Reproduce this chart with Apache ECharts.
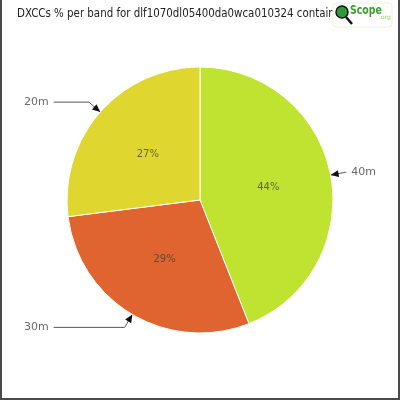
<!DOCTYPE html>
<html>
<head>
<meta charset="utf-8">
<script src="https://cdn.jsdelivr.net/npm/echarts@6/dist/echarts.min.js"></script>
<style>
html,body{margin:0;padding:0;background:#fff;}
#wrap{position:relative;width:400px;height:400px;}
#chart{position:absolute;left:0;top:0;width:400px;height:400px;}
#frame{position:absolute;left:0;top:0;width:400px;height:400px;box-sizing:border-box;border:2px solid #4a4a4a;border-top:none;pointer-events:none;}
</style>
</head>
<body>
<div id="wrap"><div id="chart"></div><div id="frame"></div></div>
<script>
const titleText = 'DXCCs % per band for dlf1070dl05400da0wca010324 container';
const bands = ['40m', '30m', '20m'];
const percents = [44, 29, 27];
const bandColors = ['#c0e230', '#e06430', '#e0d630'];

const FONT = '"DejaVu Sans", sans-serif';
const data = bands.map((b, i) => ({ name: b, value: percents[i], itemStyle: { color: bandColors[i] } }));

const chart = echarts.init(document.getElementById('chart'), null, { renderer: 'canvas' });

const baseSeries = {
  type: 'pie',
  center: ['50%', '50%'],
  radius: 133,
  startAngle: 90,
  clockwise: true,
  animation: false,
  itemStyle: { borderColor: '#ffffff', borderWidth: 1 },
  emphasis: { disabled: true }
};

chart.setOption({
  animation: false,
  series: [
    Object.assign({}, baseSeries, {
      data: data,
      label: {
        show: true,
        position: 'outside',
        alignTo: 'edge',
        edgeDistance: 24,
        overflow: 'none',
        width: 40,
        formatter: '{b}',
        fontFamily: FONT,
        fontSize: 11,
        color: '#6a6a6a'
      },
      labelLine: { show: true, length: 15, length2: 8, lineStyle: { color: '#555', width: 1 } }
    }),
    Object.assign({}, baseSeries, {
      data: data,
      silent: true,
      label: {
        show: true,
        position: 'inside',
        formatter: '{c}%',
        fontFamily: FONT,
        fontSize: 10,
        color: 'rgba(60,60,60,0.75)'
      },
      labelLine: { show: false }
    })
  ]
});

// arrowheads at the pie edge, positioned from the library's own pie layout
const sData = chart.getModel().getSeriesByIndex(0).getData();
const arrows = [];
for (let i = 0; i < sData.count(); i++) {
  const L = sData.getItemLayout(i);
  const mid = (L.startAngle + L.endAngle) / 2;
  const dx = Math.cos(mid), dy = Math.sin(mid);
  const tx = L.cx + L.r * dx, ty = L.cy + L.r * dy;
  const len = 8, hw = 3.5;
  const bx = tx + dx * len, by = ty + dy * len;
  const px = -dy, py = dx;
  arrows.push({
    type: 'polygon',
    z: 100,
    shape: { points: [[tx, ty], [bx + px * hw, by + py * hw], [bx - px * hw, by - py * hw]] },
    style: { fill: '#111' }
  });
}

const title = {
  type: 'text',
  x: 17,
  y: 7,
  scaleX: 0.82,
  z: 150,
  style: { text: titleText, fontFamily: FONT, fontSize: 12.5, fill: '#222' }
};

const logoZ = 300;
const logo = [
  { type: 'rect', z: logoZ, x: 333, y: 3, shape: { x: 0, y: 0, width: 59, height: 24, r: 3 }, style: { fill: '#fff', stroke: '#eef2d8', lineWidth: 1 } },
  { type: 'line', z: logoZ + 1, x: 333, y: 3, shape: { x1: 13, y1: 14, x2: 19, y2: 21 }, style: { stroke: '#111', lineWidth: 2.5 } },
  { type: 'circle', z: logoZ + 2, x: 333, y: 3, shape: { cx: 9, cy: 9, r: 6 }, style: { fill: '#2f9a3a', stroke: '#111', lineWidth: 1.5 } },
  { type: 'text', z: logoZ + 2, x: 350, y: 5, scaleX: 0.78, style: { text: 'Scope', fontFamily: FONT, fontSize: 12, fontWeight: 'bold', fill: '#3aa02e' } },
  { type: 'text', z: logoZ + 2, x: 379, y: 14, style: { text: '.org', fontFamily: FONT, fontSize: 6, fill: '#9ccf6a' } }
];

chart.setOption({ graphic: arrows.concat([title], logo) });
</script>
</body>
</html>
